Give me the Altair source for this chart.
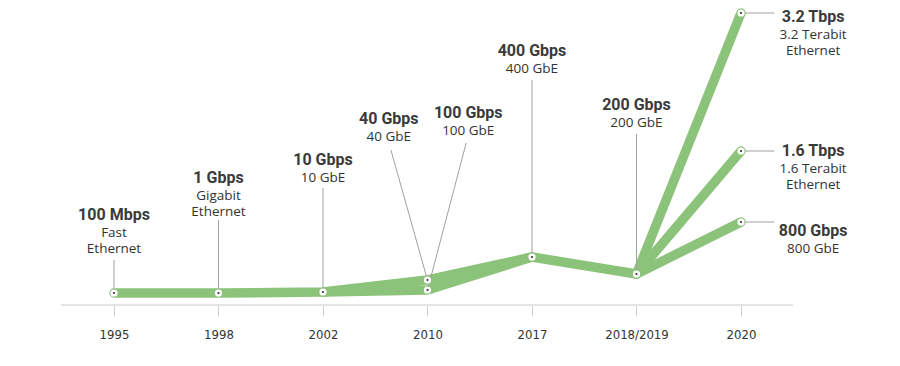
import json
import altair as alt
import pandas as pd

# ---- data ----
categories = ["1995", "1998", "2002", "2010", "2017", "2018/2019", "2020"]
speeds = ["100 Mbps", "1 Gbps", "10 Gbps", "40 Gbps", "100 Gbps", "400 Gbps",
          "200 Gbps", "800 Gbps", "1.6 Tbps", "3.2 Tbps"]
standards = ["Fast\nEthernet", "Gigabit\nEthernet", "10 GbE", "40 GbE",
             "100 GbE", "400 GbE", "200 GbE", "800 GbE",
             "1.6 Terabit\nEthernet", "3.2 Terabit\nEthernet"]
year_idx = [0, 1, 2, 3, 3, 4, 5, 6, 6, 6]
levels = [12, 12, 13, 25, 15, 48, 31, 83, 154, 292]   # visual height of each milestone
paths = [[0, 1, 2, 3, 5, 6], [2, 4, 5], [6, 7], [6, 8], [6, 9]]

# ---- label layout ----
label_x = [0, 1, 2, 2.63, 3.39, 4, 5, 6.69, 6.69, 6.69]
title_level = [90, 127, 145, 186, 192, 254, 200, 74, 154, 288]
leader_x = [0, 1, 2, 2.65, 3.37, 4, 5, 6.32, 6.32, 6.32]
leader_level = [45, 85, 117, 155, 162, 225, 171, 83, 154, 292]

GREEN = "#8cc37a"
TITLE_FONT = "Roboto"
SUB_FONT = "Open Sans"

pts = pd.DataFrame({
    "speed": speeds, "std": standards, "x": year_idx, "y": levels,
    "lx": label_x, "ty": title_level, "sx": leader_x, "sy": leader_level,
})

band_rows = []
for p, seq in enumerate(paths):
    for s, i in enumerate(seq):
        band_rows.append({"path": p, "step": s, "x": year_idx[i], "y": levels[i]})
band = pd.DataFrame(band_rows)

axis_line = pd.DataFrame({"x": [-0.51], "x2": [6.5], "y": [0]})

xscale = alt.Scale(domain=[-1.01435, 7.445], nice=False, zero=False)
yscale = alt.Scale(domain=[0, 297], nice=False, zero=False)
xaxis = alt.Axis(
    values=list(range(len(categories))),
    labelExpr=json.dumps(categories) + "[datum.value]",
    domain=False, grid=False, title=None,
    tickSize=11, tickColor="#cccccc", tickWidth=1,
    labelPadding=12, labelFont="DejaVu Sans Condensed", labelFontSize=13,
    labelColor="#333333",
)


def X(field):
    return alt.X(field, type="quantitative", scale=xscale, axis=xaxis)


def Y(field):
    return alt.Y(field, type="quantitative", scale=yscale, axis=None)


base_line = alt.Chart(axis_line).mark_rule(color="#cccccc", strokeWidth=1.2).encode(
    x=X("x"), x2="x2", y=Y("y"))

band_layer = alt.Chart(band).mark_line(
    color=GREEN, strokeWidth=9.5, strokeCap="round", strokeJoin="round"
).encode(x=X("x"), y=Y("y"), detail="path:N", order="step:Q")

leaders = alt.Chart(pts).mark_rule(color="#a0a0a0", strokeWidth=1).encode(
    x=X("sx"), y=Y("sy"), x2="x", y2="y")

circles = alt.Chart(pts).mark_point(
    filled=True, shape="circle", size=52, color="white", opacity=1
).encode(x=X("x"), y=Y("y"))

dots = alt.Chart(pts).mark_point(
    filled=True, shape="circle", size=5, color="#333333", opacity=1
).encode(x=X("x"), y=Y("y"))

titles = alt.Chart(pts).mark_text(
    font=TITLE_FONT, fontSize=16, fontWeight="bold", color="#3a3a3a",
    align="center", baseline="middle"
).encode(x=X("lx"), y=Y("ty"), text="speed:N")

sub_text = alt.Chart(pts).mark_text(
    font=SUB_FONT, fontSize=13.5, color="#333333", align="center", baseline="top",
    lineBreak="\n", lineHeight=16, dy=11
).encode(x=X("lx"), y=Y("ty"), text="std:N")

chart = alt.layer(
    base_line, band_layer, leaders, circles, dots, titles, sub_text
).properties(
    width=884, height=297,
    background="white",
    autosize=alt.AutoSizeParams(type="none"),
    padding={"left": 0, "right": 0, "top": 0, "bottom": 50},
).configure_view(strokeWidth=0, stroke="transparent")

chart.save("out.html", embed_options={"renderer": "svg", "actions": False})
